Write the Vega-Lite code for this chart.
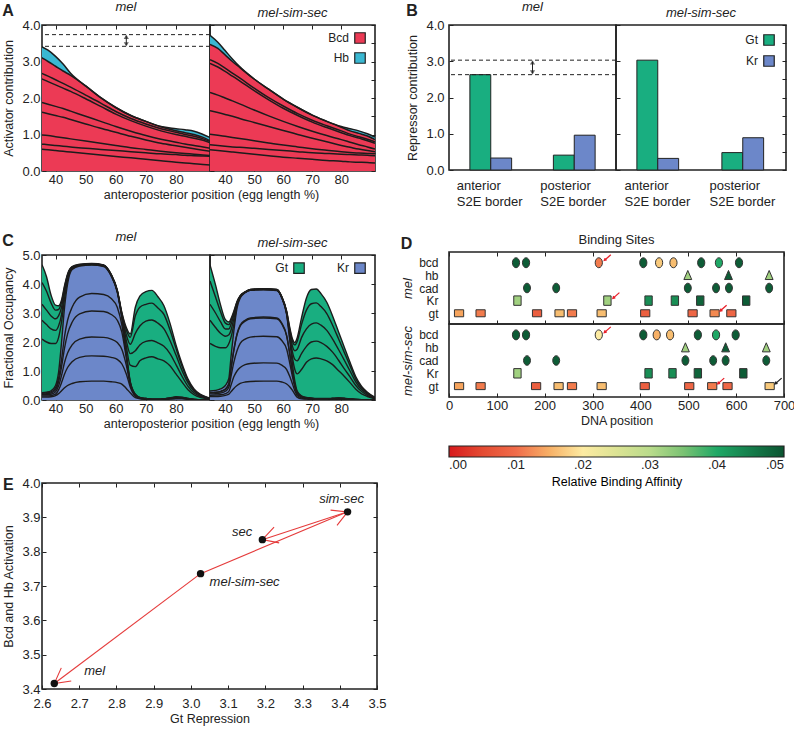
{
  "$schema": "https://vega.github.io/schema/vega-lite/v6.json",
  "padding": {"left": 2, "top": 0, "right": 4, "bottom": 0},
  "config": {
    "font": "Liberation Sans",
    "view": {"stroke": "#222", "strokeWidth": 1.6},
    "axis": {"labelFontSize": 13, "titleFontSize": 12.5, "titleFontWeight": "normal", "labelColor": "#222", "titleColor": "#222", "domain": false, "grid": false, "tickColor": "#222", "tickSize": -4, "labelPadding": 7, "titlePadding": 5, "labelFlush": false, "labelOverlap": false},
    "axisX": {"labelPadding": 6, "titlePadding": 2},
    "title": {"fontSize": 13, "fontStyle": "italic", "fontWeight": "normal", "color": "#222", "offset": 5},
    "legend": {"labelFontSize": 12, "labelColor": "#222", "titleFontWeight": "normal"}
  },
  "datasets": {
    "actA": [
      {"p":"mel","x":35,"L1":0.6,"L2":0.74,"L3":0.99,"L4":1.62,"L5":1.89,"L6":2.54,"L7":2.69,"bt":3.12,"ht":3.42},
      {"p":"mel","x":37.5,"L1":0.58,"L2":0.72,"L3":0.97,"L4":1.57,"L5":1.83,"L6":2.45,"L7":2.6,"bt":3.0,"ht":3.31},
      {"p":"mel","x":40,"L1":0.56,"L2":0.7,"L3":0.94,"L4":1.52,"L5":1.77,"L6":2.36,"L7":2.5,"bt":2.87,"ht":3.14},
      {"p":"mel","x":42.5,"L1":0.54,"L2":0.68,"L3":0.91,"L4":1.47,"L5":1.71,"L6":2.27,"L7":2.4,"bt":2.74,"ht":2.93},
      {"p":"mel","x":45,"L1":0.52,"L2":0.66,"L3":0.88,"L4":1.41,"L5":1.64,"L6":2.18,"L7":2.3,"bt":2.62,"ht":2.68},
      {"p":"mel","x":50,"L1":0.48,"L2":0.62,"L3":0.82,"L4":1.29,"L5":1.5,"L6":1.98,"L7":2.08,"bt":2.33,"ht":2.33},
      {"p":"mel","x":55,"L1":0.44,"L2":0.59,"L3":0.76,"L4":1.17,"L5":1.36,"L6":1.77,"L7":1.86,"bt":2.01,"ht":2.01},
      {"p":"mel","x":60,"L1":0.4,"L2":0.56,"L3":0.7,"L4":1.06,"L5":1.22,"L6":1.56,"L7":1.63,"bt":1.74,"ht":1.74},
      {"p":"mel","x":65,"L1":0.36,"L2":0.53,"L3":0.64,"L4":0.95,"L5":1.09,"L6":1.38,"L7":1.44,"bt":1.52,"ht":1.52},
      {"p":"mel","x":70,"L1":0.32,"L2":0.5,"L3":0.59,"L4":0.85,"L5":0.97,"L6":1.23,"L7":1.29,"bt":1.36,"ht":1.36},
      {"p":"mel","x":75,"L1":0.28,"L2":0.47,"L3":0.54,"L4":0.76,"L5":0.87,"L6":1.1,"L7":1.16,"bt":1.21,"ht":1.22},
      {"p":"mel","x":80,"L1":0.24,"L2":0.45,"L3":0.5,"L4":0.69,"L5":0.79,"L6":1.0,"L7":1.06,"bt":1.1,"ht":1.16},
      {"p":"mel","x":83,"L1":0.22,"L2":0.43,"L3":0.48,"L4":0.65,"L5":0.74,"L6":0.95,"L7":1.0,"bt":1.05,"ht":1.13},
      {"p":"mel","x":86,"L1":0.2,"L2":0.42,"L3":0.46,"L4":0.61,"L5":0.7,"L6":0.9,"L7":0.95,"bt":1.0,"ht":1.09},
      {"p":"mel","x":89,"L1":0.18,"L2":0.41,"L3":0.44,"L4":0.57,"L5":0.66,"L6":0.84,"L7":0.88,"bt":0.92,"ht":1.0},
      {"p":"mel","x":91.5,"L1":0.16,"L2":0.4,"L3":0.42,"L4":0.54,"L5":0.62,"L6":0.77,"L7":0.8,"bt":0.82,"ht":0.91},
      {"p":"mss","x":34.8,"L1":0.58,"L2":0.72,"L3":1.01,"L4":1.65,"L5":2.15,"L6":2.95,"L7":3.05,"bt":3.47,"ht":3.72},
      {"p":"mss","x":37.5,"L1":0.56,"L2":0.7,"L3":0.98,"L4":1.6,"L5":2.08,"L6":2.85,"L7":2.95,"bt":3.36,"ht":3.53},
      {"p":"mss","x":40,"L1":0.54,"L2":0.68,"L3":0.95,"L4":1.55,"L5":2.0,"L6":2.73,"L7":2.82,"bt":3.18,"ht":3.3},
      {"p":"mss","x":42.5,"L1":0.52,"L2":0.66,"L3":0.92,"L4":1.5,"L5":1.92,"L6":2.6,"L7":2.68,"bt":3.0,"ht":3.07},
      {"p":"mss","x":45,"L1":0.5,"L2":0.65,"L3":0.89,"L4":1.44,"L5":1.84,"L6":2.47,"L7":2.55,"bt":2.84,"ht":2.86},
      {"p":"mss","x":50,"L1":0.46,"L2":0.62,"L3":0.83,"L4":1.33,"L5":1.67,"L6":2.2,"L7":2.27,"bt":2.52,"ht":2.52},
      {"p":"mss","x":55,"L1":0.42,"L2":0.59,"L3":0.77,"L4":1.22,"L5":1.51,"L6":1.95,"L7":2.01,"bt":2.24,"ht":2.24},
      {"p":"mss","x":60,"L1":0.38,"L2":0.56,"L3":0.71,"L4":1.11,"L5":1.36,"L6":1.72,"L7":1.78,"bt":1.97,"ht":1.97},
      {"p":"mss","x":65,"L1":0.35,"L2":0.53,"L3":0.66,"L4":1.0,"L5":1.22,"L6":1.52,"L7":1.57,"bt":1.74,"ht":1.74},
      {"p":"mss","x":70,"L1":0.32,"L2":0.5,"L3":0.61,"L4":0.9,"L5":1.09,"L6":1.34,"L7":1.39,"bt":1.53,"ht":1.53},
      {"p":"mss","x":75,"L1":0.29,"L2":0.48,"L3":0.57,"L4":0.8,"L5":0.97,"L6":1.19,"L7":1.24,"bt":1.36,"ht":1.36},
      {"p":"mss","x":80,"L1":0.27,"L2":0.46,"L3":0.53,"L4":0.7,"L5":0.86,"L6":1.05,"L7":1.1,"bt":1.2,"ht":1.22},
      {"p":"mss","x":83,"L1":0.25,"L2":0.45,"L3":0.51,"L4":0.65,"L5":0.79,"L6":0.97,"L7":1.01,"bt":1.1,"ht":1.16},
      {"p":"mss","x":86,"L1":0.24,"L2":0.44,"L3":0.49,"L4":0.6,"L5":0.72,"L6":0.9,"L7":0.94,"bt":1.03,"ht":1.1},
      {"p":"mss","x":89,"L1":0.23,"L2":0.43,"L3":0.48,"L4":0.56,"L5":0.66,"L6":0.83,"L7":0.87,"bt":0.96,"ht":1.02},
      {"p":"mss","x":91.6,"L1":0.22,"L2":0.42,"L3":0.47,"L4":0.53,"L5":0.6,"L6":0.76,"L7":0.8,"bt":0.86,"ht":0.93}
    ],
    "repB": [
      {"p":"mel","b":"anterior|S2E border","tf":"Gt","v":2.63},
      {"p":"mel","b":"anterior|S2E border","tf":"Kr","v":0.33},
      {"p":"mel","b":"posterior|S2E border","tf":"Gt","v":0.41},
      {"p":"mel","b":"posterior|S2E border","tf":"Kr","v":0.96},
      {"p":"mss","b":"anterior|S2E border","tf":"Gt","v":3.03},
      {"p":"mss","b":"anterior|S2E border","tf":"Kr","v":0.32},
      {"p":"mss","b":"posterior|S2E border","tf":"Gt","v":0.48},
      {"p":"mss","b":"posterior|S2E border","tf":"Kr","v":0.89}
    ],
    "occC": [
      {"p":"mel","x":35.5,"k1":0.1,"k2":0.14,"k3":0.18,"k4":0.21,"k5":0.23,"kt":0.25,"g1":2.1,"g2":2.75,"g3":3.3,"g4":4.05,"gt":4.66},
      {"p":"mel","x":37,"k1":0.1,"k2":0.14,"k3":0.18,"k4":0.22,"k5":0.25,"kt":0.27,"g1":2.0,"g2":2.6,"g3":3.1,"g4":3.75,"gt":4.25},
      {"p":"mel","x":38.5,"k1":0.11,"k2":0.15,"k3":0.2,"k4":0.24,"k5":0.28,"kt":0.32,"g1":1.95,"g2":2.45,"g3":2.9,"g4":3.35,"gt":3.62},
      {"p":"mel","x":40,"k1":0.15,"k2":0.2,"k3":0.28,"k4":0.35,"k5":0.42,"kt":0.5,"g1":1.95,"g2":2.4,"g3":2.8,"g4":3.1,"gt":3.27},
      {"p":"mel","x":41,"k1":0.22,"k2":0.35,"k3":0.48,"k4":0.62,"k5":0.75,"kt":0.95,"g1":2.15,"g2":2.55,"g3":2.9,"g4":3.12,"gt":3.25},
      {"p":"mel","x":42,"k1":0.32,"k2":0.6,"k3":0.85,"k4":1.15,"k5":1.4,"kt":2.0,"g1":2.7,"g2":2.95,"g3":3.2,"g4":3.38,"gt":3.45},
      {"p":"mel","x":43,"k1":0.42,"k2":0.9,"k3":1.3,"k4":1.8,"k5":2.2,"kt":3.2,"g1":3.5,"g2":3.7,"g3":3.82,"g4":3.9,"gt":3.95},
      {"p":"mel","x":44,"k1":0.5,"k2":1.12,"k3":1.62,"k4":2.28,"k5":2.75,"kt":4.0,"g1":4.15,"g2":4.24,"g3":4.29,"g4":4.32,"gt":4.35},
      {"p":"mel","x":45.5,"k1":0.57,"k2":1.32,"k3":1.9,"k4":2.68,"k5":3.2,"kt":4.5,"g1":4.54,"g2":4.56,"g3":4.58,"g4":4.59,"gt":4.6},
      {"p":"mel","x":48,"k1":0.63,"k2":1.47,"k3":2.1,"k4":2.97,"k5":3.55,"kt":4.62,"g1":4.64,"g2":4.65,"g3":4.66,"g4":4.67,"gt":4.68},
      {"p":"mel","x":52,"k1":0.65,"k2":1.52,"k3":2.17,"k4":3.07,"k5":3.67,"kt":4.65,"g1":4.67,"g2":4.68,"g3":4.69,"g4":4.7,"gt":4.71},
      {"p":"mel","x":56,"k1":0.65,"k2":1.51,"k3":2.16,"k4":3.05,"k5":3.64,"kt":4.6,"g1":4.62,"g2":4.63,"g3":4.64,"g4":4.65,"gt":4.66},
      {"p":"mel","x":58.5,"k1":0.63,"k2":1.47,"k3":2.1,"k4":2.95,"k5":3.5,"kt":4.27,"g1":4.29,"g2":4.3,"g3":4.31,"g4":4.32,"gt":4.33},
      {"p":"mel","x":60.5,"k1":0.6,"k2":1.4,"k3":1.98,"k4":2.75,"k5":3.2,"kt":3.72,"g1":3.74,"g2":3.75,"g3":3.77,"g4":3.78,"gt":3.8},
      {"p":"mel","x":62,"k1":0.55,"k2":1.25,"k3":1.75,"k4":2.35,"k5":2.6,"kt":2.85,"g1":2.88,"g2":2.92,"g3":2.96,"g4":3.0,"gt":3.03},
      {"p":"mel","x":63.5,"k1":0.4,"k2":0.9,"k3":1.2,"k4":1.45,"k5":1.55,"kt":1.62,"g1":1.85,"g2":2.05,"g3":2.25,"g4":2.42,"gt":2.5},
      {"p":"mel","x":64.8,"k1":0.25,"k2":0.45,"k3":0.55,"k4":0.6,"k5":0.62,"kt":0.64,"g1":1.2,"g2":1.6,"g3":1.92,"g4":2.16,"gt":2.28},
      {"p":"mel","x":66.5,"k1":0.08,"k2":0.13,"k3":0.16,"k4":0.18,"k5":0.19,"kt":0.2,"g1":1.15,"g2":1.7,"g3":2.3,"g4":2.9,"gt":3.2},
      {"p":"mel","x":68,"k1":0.04,"k2":0.06,"k3":0.07,"k4":0.08,"k5":0.08,"kt":0.09,"g1":1.35,"g2":1.9,"g3":2.55,"g4":3.2,"gt":3.58},
      {"p":"mel","x":70,"k1":0.02,"k2":0.03,"k3":0.04,"k4":0.05,"k5":0.05,"kt":0.05,"g1":1.45,"g2":2.02,"g3":2.72,"g4":3.3,"gt":3.74},
      {"p":"mel","x":72,"k1":0.01,"k2":0.02,"k3":0.02,"k4":0.03,"k5":0.03,"kt":0.03,"g1":1.49,"g2":2.05,"g3":2.76,"g4":3.34,"gt":3.78},
      {"p":"mel","x":74,"k1":0.01,"k2":0.02,"k3":0.02,"k4":0.03,"k5":0.03,"kt":0.03,"g1":1.42,"g2":1.97,"g3":2.65,"g4":3.17,"gt":3.56},
      {"p":"mel","x":76,"k1":0.02,"k2":0.03,"k3":0.03,"k4":0.04,"k5":0.04,"kt":0.04,"g1":1.35,"g2":1.85,"g3":2.45,"g4":2.95,"gt":3.25},
      {"p":"mel","x":78,"k1":0.03,"k2":0.04,"k3":0.05,"k4":0.06,"k5":0.06,"kt":0.07,"g1":1.18,"g2":1.6,"g3":2.05,"g4":2.42,"gt":2.65},
      {"p":"mel","x":80,"k1":0.04,"k2":0.06,"k3":0.08,"k4":0.09,"k5":0.1,"kt":0.11,"g1":0.9,"g2":1.22,"g3":1.55,"g4":1.78,"gt":1.9},
      {"p":"mel","x":82,"k1":0.04,"k2":0.06,"k3":0.07,"k4":0.08,"k5":0.09,"kt":0.1,"g1":0.62,"g2":0.82,"g3":1.02,"g4":1.17,"gt":1.25},
      {"p":"mel","x":84,"k1":0.02,"k2":0.03,"k3":0.04,"k4":0.04,"k5":0.05,"kt":0.05,"g1":0.35,"g2":0.47,"g3":0.59,"g4":0.67,"gt":0.72},
      {"p":"mel","x":86,"k1":0.01,"k2":0.01,"k3":0.02,"k4":0.02,"k5":0.02,"kt":0.02,"g1":0.18,"g2":0.24,"g3":0.3,"g4":0.35,"gt":0.38},
      {"p":"mel","x":88,"k1":0.01,"k2":0.01,"k3":0.01,"k4":0.01,"k5":0.01,"kt":0.01,"g1":0.09,"g2":0.13,"g3":0.16,"g4":0.18,"gt":0.2},
      {"p":"mel","x":90,"k1":0,"k2":0,"k3":0,"k4":0,"k5":0,"kt":0,"g1":0.05,"g2":0.07,"g3":0.09,"g4":0.1,"gt":0.11},
      {"p":"mel","x":91.5,"k1":0,"k2":0,"k3":0,"k4":0,"k5":0,"kt":0,"g1":0.03,"g2":0.04,"g3":0.05,"g4":0.055,"gt":0.06},
      {"p":"mss","x":34.8,"k1":0.12,"k2":0.16,"k3":0.21,"k4":0.25,"k5":0.26,"kt":0.31,"g1":1.95,"g2":2.75,"g3":3.3,"g4":4.1,"gt":4.66},
      {"p":"mss","x":36.7,"k1":0.12,"k2":0.17,"k3":0.22,"k4":0.26,"k5":0.27,"kt":0.33,"g1":1.85,"g2":2.5,"g3":3.0,"g4":3.55,"gt":3.97},
      {"p":"mss","x":38.4,"k1":0.13,"k2":0.18,"k3":0.24,"k4":0.29,"k5":0.3,"kt":0.38,"g1":1.8,"g2":2.3,"g3":2.7,"g4":3.05,"gt":3.29},
      {"p":"mss","x":40.1,"k1":0.16,"k2":0.22,"k3":0.3,"k4":0.37,"k5":0.38,"kt":0.5,"g1":1.8,"g2":2.2,"g3":2.45,"g4":2.65,"gt":2.77},
      {"p":"mss","x":41.3,"k1":0.2,"k2":0.3,"k3":0.45,"k4":0.56,"k5":0.57,"kt":0.75,"g1":1.95,"g2":2.25,"g3":2.45,"g4":2.6,"gt":2.69},
      {"p":"mss","x":42,"k1":0.28,"k2":0.5,"k3":0.8,"k4":1.05,"k5":1.07,"kt":1.45,"g1":2.15,"g2":2.4,"g3":2.6,"g4":2.73,"gt":2.8},
      {"p":"mss","x":43,"k1":0.4,"k2":0.8,"k3":1.3,"k4":1.7,"k5":1.73,"kt":2.37,"g1":2.6,"g2":2.8,"g3":2.93,"g4":3.01,"gt":3.06},
      {"p":"mss","x":44.1,"k1":0.5,"k2":1.0,"k3":1.7,"k4":2.25,"k5":2.28,"kt":3.17,"g1":3.25,"g2":3.3,"g3":3.35,"g4":3.38,"gt":3.4},
      {"p":"mss","x":45.2,"k1":0.57,"k2":1.12,"k3":1.95,"k4":2.55,"k5":2.58,"kt":3.52,"g1":3.55,"g2":3.57,"g3":3.58,"g4":3.59,"gt":3.6},
      {"p":"mss","x":46.9,"k1":0.62,"k2":1.22,"k3":2.1,"k4":2.72,"k5":2.75,"kt":3.7,"g1":3.71,"g2":3.72,"g3":3.72,"g4":3.72,"gt":3.73},
      {"p":"mss","x":48.7,"k1":0.64,"k2":1.26,"k3":2.17,"k4":2.8,"k5":2.83,"kt":3.78,"g1":3.79,"g2":3.8,"g3":3.8,"g4":3.81,"gt":3.81},
      {"p":"mss","x":53.2,"k1":0.65,"k2":1.28,"k3":2.2,"k4":2.83,"k5":2.86,"kt":3.8,"g1":3.81,"g2":3.82,"g3":3.83,"g4":3.84,"gt":3.84},
      {"p":"mss","x":57.8,"k1":0.65,"k2":1.27,"k3":2.18,"k4":2.8,"k5":2.83,"kt":3.77,"g1":3.78,"g2":3.79,"g3":3.8,"g4":3.81,"gt":3.81},
      {"p":"mss","x":59.5,"k1":0.62,"k2":1.2,"k3":2.05,"k4":2.62,"k5":2.65,"kt":3.52,"g1":3.53,"g2":3.54,"g3":3.55,"g4":3.56,"gt":3.57},
      {"p":"mss","x":61.2,"k1":0.55,"k2":1.05,"k3":1.75,"k4":2.2,"k5":2.22,"kt":2.94,"g1":2.96,"g2":2.99,"g3":3.02,"g4":3.04,"gt":3.06},
      {"p":"mss","x":62.3,"k1":0.45,"k2":0.8,"k3":1.25,"k4":1.55,"k5":1.57,"kt":2.02,"g1":2.12,"g2":2.22,"g3":2.32,"g4":2.42,"gt":2.48},
      {"p":"mss","x":63.2,"k1":0.33,"k2":0.55,"k3":0.8,"k4":0.95,"k5":0.97,"kt":1.22,"g1":1.45,"g2":1.65,"g3":1.85,"g4":2.02,"gt":2.1},
      {"p":"mss","x":64,"k1":0.2,"k2":0.32,"k3":0.45,"k4":0.52,"k5":0.53,"kt":0.65,"g1":1.05,"g2":1.4,"g3":1.7,"g4":1.9,"gt":1.98},
      {"p":"mss","x":64.8,"k1":0.1,"k2":0.16,"k3":0.22,"k4":0.26,"k5":0.27,"kt":0.31,"g1":0.9,"g2":1.35,"g3":1.75,"g4":2.02,"gt":2.14},
      {"p":"mss","x":66.3,"k1":0.04,"k2":0.07,"k3":0.1,"k4":0.12,"k5":0.12,"kt":0.14,"g1":1.05,"g2":1.6,"g3":2.15,"g4":2.6,"gt":2.83},
      {"p":"mss","x":68,"k1":0.03,"k2":0.04,"k3":0.06,"k4":0.07,"k5":0.07,"kt":0.09,"g1":1.3,"g2":1.85,"g3":2.45,"g4":3.1,"gt":3.52},
      {"p":"mss","x":69.7,"k1":0.02,"k2":0.03,"k3":0.04,"k4":0.05,"k5":0.05,"kt":0.07,"g1":1.42,"g2":2.0,"g3":2.62,"g4":3.32,"gt":3.81},
      {"p":"mss","x":71.4,"k1":0.01,"k2":0.02,"k3":0.03,"k4":0.04,"k5":0.04,"kt":0.05,"g1":1.45,"g2":2.03,"g3":2.66,"g4":3.35,"gt":3.83},
      {"p":"mss","x":73,"k1":0.01,"k2":0.02,"k3":0.03,"k4":0.04,"k5":0.04,"kt":0.05,"g1":1.42,"g2":1.98,"g3":2.58,"g4":3.22,"gt":3.67},
      {"p":"mss","x":75,"k1":0.01,"k2":0.02,"k3":0.03,"k4":0.04,"k5":0.04,"kt":0.05,"g1":1.35,"g2":1.85,"g3":2.4,"g4":2.98,"gt":3.37},
      {"p":"mss","x":77,"k1":0.02,"k2":0.03,"k3":0.04,"k4":0.05,"k5":0.05,"kt":0.06,"g1":1.22,"g2":1.65,"g3":2.1,"g4":2.58,"gt":2.9},
      {"p":"mss","x":79,"k1":0.02,"k2":0.03,"k3":0.05,"k4":0.06,"k5":0.06,"kt":0.07,"g1":1.02,"g2":1.38,"g3":1.75,"g4":2.12,"gt":2.36},
      {"p":"mss","x":81,"k1":0.02,"k2":0.03,"k3":0.04,"k4":0.05,"k5":0.05,"kt":0.06,"g1":0.82,"g2":1.08,"g3":1.38,"g4":1.65,"gt":1.83},
      {"p":"mss","x":83,"k1":0.01,"k2":0.02,"k3":0.03,"k4":0.03,"k5":0.03,"kt":0.04,"g1":0.6,"g2":0.8,"g3":1.0,"g4":1.18,"gt":1.3},
      {"p":"mss","x":85,"k1":0.01,"k2":0.01,"k3":0.02,"k4":0.02,"k5":0.02,"kt":0.02,"g1":0.37,"g2":0.5,"g3":0.62,"g4":0.72,"gt":0.8},
      {"p":"mss","x":87,"k1":0,"k2":0,"k3":0.01,"k4":0.01,"k5":0.01,"kt":0.01,"g1":0.21,"g2":0.29,"g3":0.36,"g4":0.42,"gt":0.47},
      {"p":"mss","x":89,"k1":0,"k2":0,"k3":0,"k4":0,"k5":0,"kt":0,"g1":0.12,"g2":0.16,"g3":0.2,"g4":0.24,"gt":0.27},
      {"p":"mss","x":91.6,"k1":0,"k2":0,"k3":0,"k4":0,"k5":0,"kt":0,"g1":0.04,"g2":0.05,"g3":0.07,"g4":0.08,"gt":0.09}
    ],
    "sites": [
      {"p":"mel","tf":"bcd","pos":140,"a":0.049},{"p":"mel","tf":"bcd","pos":161,"a":0.049},{"p":"mel","tf":"bcd","pos":313,"a":0.011},
      {"p":"mel","tf":"bcd","pos":406,"a":0.049},{"p":"mel","tf":"bcd","pos":439,"a":0.017},{"p":"mel","tf":"bcd","pos":469,"a":0.016},
      {"p":"mel","tf":"bcd","pos":527,"a":0.049},{"p":"mel","tf":"bcd","pos":564,"a":0.04},{"p":"mel","tf":"bcd","pos":606,"a":0.049},
      {"p":"mel","tf":"hb","pos":499,"a":0.032},{"p":"mel","tf":"hb","pos":584,"a":0.049},{"p":"mel","tf":"hb","pos":669,"a":0.032},
      {"p":"mel","tf":"cad","pos":163,"a":0.049},{"p":"mel","tf":"cad","pos":224,"a":0.049},{"p":"mel","tf":"cad","pos":499,"a":0.049},
      {"p":"mel","tf":"cad","pos":558,"a":0.049},{"p":"mel","tf":"cad","pos":585,"a":0.049},{"p":"mel","tf":"cad","pos":669,"a":0.049},
      {"p":"mel","tf":"Kr","pos":143,"a":0.032},{"p":"mel","tf":"Kr","pos":331,"a":0.032},{"p":"mel","tf":"Kr","pos":417,"a":0.043},
      {"p":"mel","tf":"Kr","pos":472,"a":0.043},{"p":"mel","tf":"Kr","pos":525,"a":0.048},{"p":"mel","tf":"Kr","pos":621,"a":0.049},
      {"p":"mel","tf":"gt","pos":21,"a":0.014},{"p":"mel","tf":"gt","pos":66,"a":0.011},{"p":"mel","tf":"gt","pos":184,"a":0.008},
      {"p":"mel","tf":"gt","pos":231,"a":0.016},{"p":"mel","tf":"gt","pos":257,"a":0.011},{"p":"mel","tf":"gt","pos":319,"a":0.016},
      {"p":"mel","tf":"gt","pos":410,"a":0.008},{"p":"mel","tf":"gt","pos":509,"a":0.009},{"p":"mel","tf":"gt","pos":555,"a":0.012},
      {"p":"mel","tf":"gt","pos":590,"a":0.009},
      {"p":"mss","tf":"bcd","pos":140,"a":0.049},{"p":"mss","tf":"bcd","pos":161,"a":0.049},{"p":"mss","tf":"bcd","pos":313,"a":0.02},
      {"p":"mss","tf":"bcd","pos":406,"a":0.049},{"p":"mss","tf":"bcd","pos":434,"a":0.015},{"p":"mss","tf":"bcd","pos":462,"a":0.016},
      {"p":"mss","tf":"bcd","pos":520,"a":0.049},{"p":"mss","tf":"bcd","pos":558,"a":0.04},{"p":"mss","tf":"bcd","pos":599,"a":0.049},
      {"p":"mss","tf":"hb","pos":494,"a":0.032},{"p":"mss","tf":"hb","pos":578,"a":0.049},{"p":"mss","tf":"hb","pos":663,"a":0.032},
      {"p":"mss","tf":"cad","pos":163,"a":0.049},{"p":"mss","tf":"cad","pos":224,"a":0.049},{"p":"mss","tf":"cad","pos":494,"a":0.049},
      {"p":"mss","tf":"cad","pos":552,"a":0.049},{"p":"mss","tf":"cad","pos":578,"a":0.049},{"p":"mss","tf":"cad","pos":663,"a":0.049},
      {"p":"mss","tf":"Kr","pos":143,"a":0.032},{"p":"mss","tf":"Kr","pos":417,"a":0.043},{"p":"mss","tf":"Kr","pos":467,"a":0.043},
      {"p":"mss","tf":"Kr","pos":520,"a":0.048},{"p":"mss","tf":"Kr","pos":615,"a":0.049},
      {"p":"mss","tf":"gt","pos":21,"a":0.014},{"p":"mss","tf":"gt","pos":66,"a":0.011},{"p":"mss","tf":"gt","pos":182,"a":0.008},
      {"p":"mss","tf":"gt","pos":229,"a":0.016},{"p":"mss","tf":"gt","pos":257,"a":0.011},{"p":"mss","tf":"gt","pos":319,"a":0.016},
      {"p":"mss","tf":"gt","pos":409,"a":0.008},{"p":"mss","tf":"gt","pos":502,"a":0.009},{"p":"mss","tf":"gt","pos":550,"a":0.011},
      {"p":"mss","tf":"gt","pos":582,"a":0.009},{"p":"mss","tf":"gt","pos":670,"a":0.017}
    ],
    "flags": [
      {"p":"mel","tf":"bcd","pos":313,"kind":"changed"},
      {"p":"mel","tf":"Kr","pos":331,"kind":"changed"},
      {"p":"mel","tf":"gt","pos":555,"kind":"changed"},
      {"p":"mss","tf":"bcd","pos":313,"kind":"changed"},
      {"p":"mss","tf":"gt","pos":550,"kind":"changed"},
      {"p":"mss","tf":"gt","pos":670,"kind":"added"}
    ],
    "pts": [
      {"name":"mel","rep":2.633,"act":3.416},
      {"name":"mel-sim-sec","rep":3.026,"act":3.736},
      {"name":"sec","rep":3.192,"act":3.835},
      {"name":"sim-sec","rep":3.421,"act":3.916}
    ],
    "moves": [
      {"id":"a1","x1":3.026,"y1":3.736,"x2":2.633,"y2":3.416},
      {"id":"a2","x1":3.026,"y1":3.736,"x2":3.421,"y2":3.916},
      {"id":"a3","x1":3.421,"y1":3.916,"x2":3.192,"y2":3.835}
    ]
  },
  "hconcat": [
    {
      "vconcat": [
        {
          "vconcat": [
            {
              "title": {"text": "A", "anchor": "start", "frame": "bounds", "fontSize": 16, "fontWeight": "bold", "fontStyle": "normal", "offset": -19},
              "hconcat": [
                {
                  "width": 168, "height": 146,
                  "title": {"text": "mel"},
                  "data": {"name": "actA"},
                  "transform": [{"filter": "datum.p == 'mel'"}],
                  "layer": [
                    {"layer": [
                      {"mark": {"type": "area", "clip": true, "interpolate": "monotone"},
                       "encoding": {
                         "x": {"field": "x", "type": "quantitative", "scale": {"domain": [35.5, 91.3], "nice": false, "zero": false}, "axis": {"values": [40,50,60,70,80], "tickCount": 20, "title": "anteroposterior position (egg length %)", "titleX": 169}},
                         "y": {"field": "ht", "type": "quantitative", "stack": null, "scale": {"domain": [0, 4]}, "axis": {"values": [0,1,2,3,4], "tickCount": 20, "format": ".1f", "labelPadding": 6, "titlePadding": 6, "title": "Activator contribution"}},
                         "color": {"datum": "Hb", "scale": {"domain": ["Bcd", "Hb"], "range": ["#ec3a55", "#3ab8d2"]}, "legend": null}}},
                      {"mark": {"type": "area", "clip": true, "interpolate": "monotone"},
                       "encoding": {"x": {"field": "x", "type": "quantitative"}, "y": {"field": "bt", "type": "quantitative", "stack": null}, "color": {"datum": "Bcd"}}},
                      {"transform": [{"fold": ["L1","L2","L3","L4","L5","L6","L7","bt","ht"], "as": ["line", "val"]}],
                       "mark": {"type": "line", "clip": true, "interpolate": "monotone", "color": "#1c1c1c", "strokeWidth": 1.5},
                       "encoding": {"x": {"field": "x", "type": "quantitative"}, "y": {"field": "val", "type": "quantitative"}, "detail": {"field": "line"}}},
                      {"data": {"values": [{"y": 3.416}, {"y": 3.736}]},
                       "mark": {"type": "rule", "strokeDash": [4, 3], "color": "#222", "strokeWidth": 1},
                       "encoding": {"y": {"field": "y", "type": "quantitative"}}},
                      {"data": {"values": [{"x": 63.5, "lo": 3.45, "hi": 3.7}]},
                       "mark": {"type": "rule", "color": "#222", "strokeWidth": 1},
                       "encoding": {"x": {"field": "x", "type": "quantitative"}, "y": {"field": "lo", "type": "quantitative"}, "y2": {"field": "hi"}}},
                      {"data": {"values": [{"x": 63.5, "y": 3.68}]},
                       "mark": {"type": "point", "shape": "triangle-up", "filled": true, "color": "#222", "size": 26},
                       "encoding": {"x": {"field": "x", "type": "quantitative"}, "y": {"field": "y", "type": "quantitative"}}},
                      {"data": {"values": [{"x": 63.5, "y": 3.47}]},
                       "mark": {"type": "point", "shape": "triangle-down", "filled": true, "color": "#222", "size": 26},
                       "encoding": {"x": {"field": "x", "type": "quantitative"}, "y": {"field": "y", "type": "quantitative"}}}
                    ]},
                    {"mark": {"type": "point", "opacity": 0},
                     "encoding": {"x": {"field": "x", "type": "quantitative", "axis": {"orient": "top", "values": [40,50,60,70,80], "tickCount": 20, "labels": false, "title": null}}}}
                  ],
                  "resolve": {"axis": {"x": "independent"}}
                },
                {
                  "width": 165, "height": 146,
                  "title": {"text": "mel-sim-sec"},
                  "data": {"name": "actA"},
                  "transform": [{"filter": "datum.p == 'mss'"}],
                  "layer": [
                    {"layer": [
                      {"mark": {"type": "area", "clip": true, "interpolate": "monotone"},
                       "encoding": {
                         "x": {"field": "x", "type": "quantitative", "scale": {"domain": [34.8, 91.6], "nice": false, "zero": false}, "axis": {"values": [40,50,60,70,80], "tickCount": 20, "title": null}},
                         "y": {"field": "ht", "type": "quantitative", "stack": null, "scale": {"domain": [0, 4]}, "axis": {"values": [0,1,2,3,4], "tickCount": 20, "labels": false, "title": null}},
                         "color": {"datum": "Hb", "scale": {"domain": ["Bcd", "Hb"], "range": ["#ec3a55", "#3ab8d2"]},
                                   "legend": {"orient": "top-right", "offset": 7, "title": null, "symbolType": "square", "symbolSize": 110, "symbolStrokeColor": "#222", "symbolStrokeWidth": 1.2, "labelAlign": "right", "labelOffset": -17, "rowPadding": 4}}}},
                      {"mark": {"type": "area", "clip": true, "interpolate": "monotone"},
                       "encoding": {"x": {"field": "x", "type": "quantitative"}, "y": {"field": "bt", "type": "quantitative", "stack": null}, "color": {"datum": "Bcd"}}},
                      {"transform": [{"fold": ["L1","L2","L3","L4","L5","L6","L7","bt","ht"], "as": ["line", "val"]}],
                       "mark": {"type": "line", "clip": true, "interpolate": "monotone", "color": "#1c1c1c", "strokeWidth": 1.5},
                       "encoding": {"x": {"field": "x", "type": "quantitative"}, "y": {"field": "val", "type": "quantitative"}, "detail": {"field": "line"}}}
                    ]},
                    {"mark": {"type": "point", "opacity": 0},
                     "encoding": {"x": {"field": "x", "type": "quantitative", "axis": {"orient": "top", "values": [40,50,60,70,80], "tickCount": 20, "labels": false, "title": null}},
                                  "y": {"field": "ht", "type": "quantitative", "axis": {"orient": "right", "values": [0,0.5,1,1.5,2,2.5,3,3.5,4], "tickCount": 20, "labels": false, "title": null}}}}
                  ],
                  "resolve": {"axis": {"x": "independent", "y": "independent"}}
                }
              ],
              "spacing": 0,
              "bounds": "flush",
              "resolve": {"scale": {"color": "independent"}}
            },
            {
              "title": {"text": "C", "anchor": "start", "frame": "bounds", "fontSize": 16, "fontWeight": "bold", "fontStyle": "normal", "offset": -19},
              "hconcat": [
                {
                  "width": 168, "height": 145,
                  "title": {"text": "mel"},
                  "data": {"name": "occC"},
                  "transform": [{"filter": "datum.p == 'mel'"}],
                  "layer": [
                    {"layer": [
                      {"mark": {"type": "area", "clip": true, "interpolate": "monotone"},
                       "encoding": {
                         "x": {"field": "x", "type": "quantitative", "scale": {"domain": [35.5, 91.3], "nice": false, "zero": false}, "axis": {"values": [40,50,60,70,80], "tickCount": 20, "title": "anteroposterior position (egg length %)", "titleX": 169}},
                         "y": {"field": "gt", "type": "quantitative", "stack": null, "scale": {"domain": [0, 5]}, "axis": {"values": [0,1,2,3,4,5], "tickCount": 20, "format": ".1f", "labelPadding": 6, "titlePadding": 6, "title": "Fractional Occupancy"}},
                         "color": {"datum": "Gt", "scale": {"domain": ["Gt", "Kr"], "range": ["#19ae80", "#6c87c9"]}, "legend": null}}},
                      {"mark": {"type": "area", "clip": true, "interpolate": "monotone"},
                       "encoding": {"x": {"field": "x", "type": "quantitative"}, "y": {"field": "kt", "type": "quantitative", "stack": null}, "color": {"datum": "Kr"}}},
                      {"transform": [{"fold": ["k1","k2","k3","k4","k5","kt","g1","g2","g3","g4","gt"], "as": ["line", "val"]}],
                       "mark": {"type": "line", "clip": true, "interpolate": "monotone", "color": "#1c1c1c", "strokeWidth": 1.4},
                       "encoding": {"x": {"field": "x", "type": "quantitative"}, "y": {"field": "val", "type": "quantitative"}, "detail": {"field": "line"}}}
                    ]},
                    {"mark": {"type": "point", "opacity": 0},
                     "encoding": {"x": {"field": "x", "type": "quantitative", "axis": {"orient": "top", "values": [40,50,60,70,80], "tickCount": 20, "labels": false, "title": null}}}}
                  ],
                  "resolve": {"axis": {"x": "independent"}}
                },
                {
                  "width": 165, "height": 145,
                  "title": {"text": "mel-sim-sec"},
                  "data": {"name": "occC"},
                  "transform": [{"filter": "datum.p == 'mss'"}],
                  "layer": [
                    {"layer": [
                      {"mark": {"type": "area", "clip": true, "interpolate": "monotone"},
                       "encoding": {
                         "x": {"field": "x", "type": "quantitative", "scale": {"domain": [34.8, 91.6], "nice": false, "zero": false}, "axis": {"values": [40,50,60,70,80], "tickCount": 20, "title": null}},
                         "y": {"field": "gt", "type": "quantitative", "stack": null, "scale": {"domain": [0, 5]}, "axis": {"values": [0,1,2,3,4,5], "tickCount": 20, "labels": false, "title": null}},
                         "color": {"datum": "Gt", "scale": {"domain": ["Gt", "Kr"], "range": ["#19ae80", "#6c87c9"]},
                                   "legend": {"orient": "top-right", "offset": 7, "direction": "horizontal", "title": null, "symbolType": "square", "symbolSize": 110, "symbolStrokeColor": "#222", "symbolStrokeWidth": 1.2, "labelAlign": "right", "labelOffset": -17, "columnPadding": 30}}}},
                      {"mark": {"type": "area", "clip": true, "interpolate": "monotone"},
                       "encoding": {"x": {"field": "x", "type": "quantitative"}, "y": {"field": "kt", "type": "quantitative", "stack": null}, "color": {"datum": "Kr"}}},
                      {"transform": [{"fold": ["k1","k2","k3","k4","k5","kt","g1","g2","g3","g4","gt"], "as": ["line", "val"]}],
                       "mark": {"type": "line", "clip": true, "interpolate": "monotone", "color": "#1c1c1c", "strokeWidth": 1.4},
                       "encoding": {"x": {"field": "x", "type": "quantitative"}, "y": {"field": "val", "type": "quantitative"}, "detail": {"field": "line"}}}
                    ]},
                    {"mark": {"type": "point", "opacity": 0},
                     "encoding": {"x": {"field": "x", "type": "quantitative", "axis": {"orient": "top", "values": [40,50,60,70,80], "tickCount": 20, "labels": false, "title": null}},
                                  "y": {"field": "gt", "type": "quantitative", "axis": {"orient": "right", "values": [0,1,2,3,4,5], "tickCount": 20, "labels": false, "title": null}}}}
                  ],
                  "resolve": {"axis": {"x": "independent", "y": "independent"}}
                }
              ],
              "spacing": 0,
              "bounds": "flush",
              "resolve": {"scale": {"color": "independent"}}
            }
          ],
          "spacing": 28,
          "resolve": {"scale": {"color": "independent"}}
        },
        {
          "title": {"text": "E", "anchor": "start", "frame": "bounds", "fontSize": 16, "fontWeight": "bold", "fontStyle": "normal", "offset": -16},
          "width": 335, "height": 206,
          "layer": [
            {"layer": [
              {"data": {"name": "moves"},
               "mark": {"type": "rule", "color": "#e53b3b", "strokeWidth": 1.1},
               "encoding": {
                 "x": {"field": "x1", "type": "quantitative", "scale": {"domain": [2.6, 3.5], "nice": false, "zero": false}, "axis": {"values": [2.6,2.7,2.8,2.9,3.0,3.1,3.2,3.3,3.4,3.5], "tickCount": 20, "format": ".1f", "labelPadding": 12, "titlePadding": 2, "title": "Gt Repression"}},
                 "y": {"field": "y1", "type": "quantitative", "scale": {"domain": [3.4, 4.0], "nice": false, "zero": false}, "axis": {"values": [3.4,3.5,3.6,3.7,3.8,3.9,4.0], "tickCount": 20, "format": ".1f", "labelPadding": 6, "titlePadding": 6, "title": "Bcd and Hb Activation"}},
                 "x2": {"field": "x2"}, "y2": {"field": "y2"}}},
              {"data": {"name": "moves"}, "transform": [{"filter": "datum.id == 'a1'"}],
               "mark": {"type": "point", "shape": "M-1,-0.55L0,0L-1,0.55", "angle": 143, "size": 900, "filled": false, "color": "#e53b3b", "strokeWidth": 1.1, "opacity": 1},
               "encoding": {"x": {"field": "x2", "type": "quantitative"}, "y": {"field": "y2", "type": "quantitative"}}},
              {"data": {"name": "moves"}, "transform": [{"filter": "datum.id == 'a2'"}],
               "mark": {"type": "point", "shape": "M-1,-0.55L0,0L-1,0.55", "angle": 337, "size": 900, "filled": false, "color": "#e53b3b", "strokeWidth": 1.1, "opacity": 1},
               "encoding": {"x": {"field": "x2", "type": "quantitative"}, "y": {"field": "y2", "type": "quantitative"}}},
              {"data": {"name": "moves"}, "transform": [{"filter": "datum.id == 'a3'"}],
               "mark": {"type": "point", "shape": "M-1,-0.55L0,0L-1,0.55", "angle": 162, "size": 900, "filled": false, "color": "#e53b3b", "strokeWidth": 1.1, "opacity": 1},
               "encoding": {"x": {"field": "x2", "type": "quantitative"}, "y": {"field": "y2", "type": "quantitative"}}},
              {"data": {"name": "pts"},
               "mark": {"type": "circle", "size": 55, "color": "#111", "opacity": 1},
               "encoding": {"x": {"field": "rep", "type": "quantitative"}, "y": {"field": "act", "type": "quantitative"}}},
              {"data": {"name": "pts"}, "transform": [{"filter": "datum.name == 'mel'"}],
               "mark": {"type": "text", "fontStyle": "italic", "fontSize": 13, "align": "left", "dx": 30, "dy": -13, "color": "#222"},
               "encoding": {"x": {"field": "rep", "type": "quantitative"}, "y": {"field": "act", "type": "quantitative"}, "text": {"field": "name"}}},
              {"data": {"name": "pts"}, "transform": [{"filter": "datum.name == 'mel-sim-sec'"}],
               "mark": {"type": "text", "fontStyle": "italic", "fontSize": 13, "align": "left", "dx": 9, "dy": 8, "color": "#222"},
               "encoding": {"x": {"field": "rep", "type": "quantitative"}, "y": {"field": "act", "type": "quantitative"}, "text": {"field": "name"}}},
              {"data": {"name": "pts"}, "transform": [{"filter": "datum.name == 'sec'"}],
               "mark": {"type": "text", "fontStyle": "italic", "fontSize": 13, "align": "right", "dx": -10, "dy": -8, "color": "#222"},
               "encoding": {"x": {"field": "rep", "type": "quantitative"}, "y": {"field": "act", "type": "quantitative"}, "text": {"field": "name"}}},
              {"data": {"name": "pts"}, "transform": [{"filter": "datum.name == 'sim-sec'"}],
               "mark": {"type": "text", "fontStyle": "italic", "fontSize": 13, "align": "center", "dx": -6, "dy": -13, "color": "#222"},
               "encoding": {"x": {"field": "rep", "type": "quantitative"}, "y": {"field": "act", "type": "quantitative"}, "text": {"field": "name"}}}
            ]},
            {"data": {"name": "pts"},
             "mark": {"type": "point", "opacity": 0},
             "encoding": {"x": {"field": "rep", "type": "quantitative", "axis": {"orient": "top", "values": [2.6,2.7,2.8,2.9,3.0,3.1,3.2,3.3,3.4,3.5], "tickCount": 20, "labels": false, "title": null}},
                          "y": {"field": "act", "type": "quantitative", "axis": {"orient": "right", "values": [3.4,3.5,3.6,3.7,3.8,3.9,4.0], "tickCount": 20, "labels": false, "title": null}}}}
          ],
          "resolve": {"axis": {"x": "independent", "y": "independent"}}
        }
      ],
      "spacing": 45,
      "resolve": {"scale": {"color": "independent"}}
    },
    {
      "vconcat": [
        {
          "title": {"text": "B", "anchor": "start", "frame": "bounds", "fontSize": 16, "fontWeight": "bold", "fontStyle": "normal", "offset": -19},
          "hconcat": [
            {
              "width": 167, "height": 145,
              "title": {"text": "mel"},
              "layer": [
                {"data": {"name": "repB"}, "transform": [{"filter": "datum.p == 'mel'"}],
                 "mark": {"type": "bar", "stroke": "#222", "strokeWidth": 1},
                 "encoding": {
                   "x": {"field": "b", "type": "nominal", "scale": {"paddingInner": 0, "paddingOuter": 0}, "axis": {"title": null, "ticks": false, "labelAngle": 0, "labelAlign": "left", "labelOffset": -34, "labelExpr": "split(datum.label, '|')", "labelFontSize": 13, "labelLineHeight": 16, "labelPadding": 9, "labelBaseline": "top"}},
                   "xOffset": {"field": "tf", "type": "nominal", "scale": {"paddingInner": 0, "paddingOuter": 1.2}},
                   "y": {"field": "v", "type": "quantitative", "scale": {"domain": [0, 4]}, "axis": {"values": [0,1,2,3,4], "tickCount": 20, "format": ".1f", "labelPadding": 9, "titlePadding": 6, "title": "Repressor contribution"}},
                   "color": {"field": "tf", "type": "nominal", "scale": {"domain": ["Gt", "Kr"], "range": ["#19ae80", "#6c87c9"]}, "legend": null}}},
                {"data": {"values": [{"y": 2.63}, {"y": 3.03}]},
                 "mark": {"type": "rule", "strokeDash": [4, 3], "color": "#222", "strokeWidth": 1},
                 "encoding": {"y": {"field": "y", "type": "quantitative"}}},
                {"data": {"values": [{"b": "posterior|S2E border", "lo": 2.67, "hi": 2.99}]},
                 "mark": {"type": "rule", "color": "#222", "strokeWidth": 1},
                 "encoding": {"x": {"field": "b", "type": "nominal", "bandPosition": 0}, "y": {"field": "lo", "type": "quantitative"}, "y2": {"field": "hi"}}},
                {"data": {"values": [{"b": "posterior|S2E border", "y": 2.97}]},
                 "mark": {"type": "point", "shape": "triangle-up", "filled": true, "color": "#222", "size": 26},
                 "encoding": {"x": {"field": "b", "type": "nominal", "bandPosition": 0}, "y": {"field": "y", "type": "quantitative"}}},
                {"data": {"values": [{"b": "posterior|S2E border", "y": 2.69}]},
                 "mark": {"type": "point", "shape": "triangle-down", "filled": true, "color": "#222", "size": 26},
                 "encoding": {"x": {"field": "b", "type": "nominal", "bandPosition": 0}, "y": {"field": "y", "type": "quantitative"}}}
              ]
            },
            {
              "width": 170, "height": 145,
              "title": {"text": "mel-sim-sec"},
              "data": {"name": "repB"},
              "transform": [{"filter": "datum.p == 'mss'"}],
              "layer": [
                {"mark": {"type": "bar", "stroke": "#222", "strokeWidth": 1},
                 "encoding": {
                   "x": {"field": "b", "type": "nominal", "scale": {"paddingInner": 0, "paddingOuter": 0}, "axis": {"title": null, "ticks": false, "labelAngle": 0, "labelAlign": "left", "labelOffset": -34, "labelExpr": "split(datum.label, '|')", "labelFontSize": 13, "labelLineHeight": 16, "labelPadding": 9, "labelBaseline": "top"}},
                   "xOffset": {"field": "tf", "type": "nominal", "scale": {"paddingInner": 0, "paddingOuter": 1.2}},
                   "y": {"field": "v", "type": "quantitative", "scale": {"domain": [0, 4]}, "axis": {"values": [0,1,2,3,4], "tickCount": 20, "labels": false, "title": null}},
                   "color": {"field": "tf", "type": "nominal", "scale": {"domain": ["Gt", "Kr"], "range": ["#19ae80", "#6c87c9"]},
                             "legend": {"orient": "top-right", "offset": 9, "title": null, "symbolType": "square", "symbolSize": 110, "symbolStrokeColor": "#222", "symbolStrokeWidth": 1.2, "labelAlign": "right", "labelOffset": -17, "rowPadding": 5}}}},
                {"mark": {"type": "point", "opacity": 0},
                 "encoding": {"y": {"field": "v", "type": "quantitative", "axis": {"orient": "right", "values": [0,0.5,1,1.5,2,2.5,3,3.5,4], "tickCount": 20, "labels": false, "title": null}}}}
              ],
              "resolve": {"axis": {"y": "independent"}}
            }
          ],
          "spacing": 0,
          "bounds": "flush",
          "resolve": {"scale": {"color": "independent"}}
        },
        {
          "title": {"text": "D", "anchor": "start", "frame": "bounds", "fontSize": 16, "fontWeight": "bold", "fontStyle": "normal", "offset": -19},
          "vconcat": [
            {
              "width": 335, "height": 72,
              "title": {"text": "Binding Sites", "fontStyle": "normal"},
              "layer": [
                {"layer": [
                  {"data": {"name": "sites"}, "transform": [{"filter": "datum.p == 'mel'"}],
                   "mark": {"type": "point", "filled": true, "stroke": "#333", "strokeWidth": 1, "opacity": 1},
                   "encoding": {
                     "x": {"field": "pos", "type": "quantitative", "scale": {"domain": [0, 700], "nice": false}, "axis": {"values": [0,100,200,300,400,500,600,700], "tickCount": 20, "labels": false, "title": null}},
                     "y": {"field": "tf", "type": "nominal", "sort": ["bcd", "hb", "cad", "Kr", "gt"], "scale": {"padding": 0.85}, "axis": {"ticks": false, "title": "mel", "titleFontStyle": "italic", "titleFontSize": 13, "labelFontSize": 12, "labelPadding": 11, "titlePadding": 4}},
                     "color": {"field": "a", "type": "quantitative", "scale": {"type": "linear", "domain": [0, 0.01, 0.02, 0.03, 0.04, 0.05], "range": ["#d7191c", "#f06c4a", "#fdeba2", "#b9db8b", "#1fa866", "#0b5431"]},
                               "legend": {"orient": "bottom", "direction": "horizontal", "title": "Relative Binding Affinity", "titleOrient": "bottom", "titleAnchor": "middle", "titleFontSize": 12.5, "titlePadding": 4, "labelFontSize": 13, "gradientLength": 335, "gradientThickness": 11, "gradientStrokeColor": "#222", "gradientStrokeWidth": 1.2, "values": [0, 0.01, 0.02, 0.03, 0.04, 0.05], "labelExpr": "replace(format(datum.value, '.2f'), '0.', '.')", "labelAlign": "center", "offset": 18}},
                     "shape": {"field": "tf", "type": "nominal", "scale": {"domain": ["bcd", "hb", "cad", "Kr", "gt"], "range": ["M0,-1A0.72,1,0,1,1,0,1A0.72,1,0,1,1,0,-1Z", "M0,-1L0.8,0.85L-0.8,0.85Z", "M0,-1A0.72,1,0,1,1,0,1A0.72,1,0,1,1,0,-1Z", "M-0.78,-1H0.78V1H-0.78Z", "M-1,-0.76H1V0.76H-1Z"]}, "legend": null},
                     "size": {"field": "tf", "type": "nominal", "scale": {"domain": ["bcd", "hb", "cad", "Kr", "gt"], "range": [100, 85, 100, 85, 196]}, "legend": null}}},
                  {"data": {"name": "flags"}, "transform": [{"filter": "datum.p == 'mel'"}],
                   "mark": {"type": "point", "shape": "M2.4,-1.6L1.1,-0.45M1.59,-0.55L1.1,-0.45L1.26,-0.92", "filled": false, "size": 100, "strokeWidth": 1.3, "opacity": 1},
                   "encoding": {
                     "x": {"field": "pos", "type": "quantitative"},
                     "y": {"field": "tf", "type": "nominal", "sort": ["bcd", "hb", "cad", "Kr", "gt"]},
                     "stroke": {"field": "kind", "type": "nominal", "scale": {"domain": ["changed", "added"], "range": ["#e8202a", "#222"]}, "legend": null}}}
                ]},
                {"data": {"name": "flags"},
                 "mark": {"type": "point", "opacity": 0},
                 "encoding": {"x": {"field": "pos", "type": "quantitative", "axis": {"orient": "top", "values": [0,100,200,300,400,500,600,700], "tickCount": 20, "labels": false, "title": null}}}}
              ],
              "resolve": {"axis": {"x": "independent"}}
            },
            {
              "width": 335, "height": 73,
              "layer": [
                {"data": {"name": "sites"}, "transform": [{"filter": "datum.p == 'mss'"}],
                 "mark": {"type": "point", "filled": true, "stroke": "#333", "strokeWidth": 1, "opacity": 1},
                 "encoding": {
                   "x": {"field": "pos", "type": "quantitative", "scale": {"domain": [0, 700], "nice": false}, "axis": {"values": [0,100,200,300,400,500,600,700], "tickCount": 20, "title": "DNA position"}},
                   "y": {"field": "tf", "type": "nominal", "sort": ["bcd", "hb", "cad", "Kr", "gt"], "scale": {"padding": 0.85}, "axis": {"ticks": false, "title": "mel-sim-sec", "titleFontStyle": "italic", "titleFontSize": 13, "labelFontSize": 12, "labelPadding": 11, "titlePadding": 4}},
                   "color": {"field": "a", "type": "quantitative"},
                   "shape": {"field": "tf", "type": "nominal", "legend": null},
                   "size": {"field": "tf", "type": "nominal", "legend": null}}},
                {"data": {"name": "flags"}, "transform": [{"filter": "datum.p == 'mss'"}],
                 "mark": {"type": "point", "shape": "M2.4,-1.6L1.1,-0.45M1.59,-0.55L1.1,-0.45L1.26,-0.92", "filled": false, "size": 100, "strokeWidth": 1.3, "opacity": 1},
                 "encoding": {
                   "x": {"field": "pos", "type": "quantitative"},
                   "y": {"field": "tf", "type": "nominal", "sort": ["bcd", "hb", "cad", "Kr", "gt"]},
                   "stroke": {"field": "kind", "type": "nominal", "legend": null}}}
              ]
            }
          ],
          "spacing": 0,
          "bounds": "flush"
        }
      ],
      "spacing": 23,
      "resolve": {"scale": {"color": "independent"}}
    }
  ],
  "spacing": 13,
  "resolve": {"scale": {"color": "independent"}}
}
